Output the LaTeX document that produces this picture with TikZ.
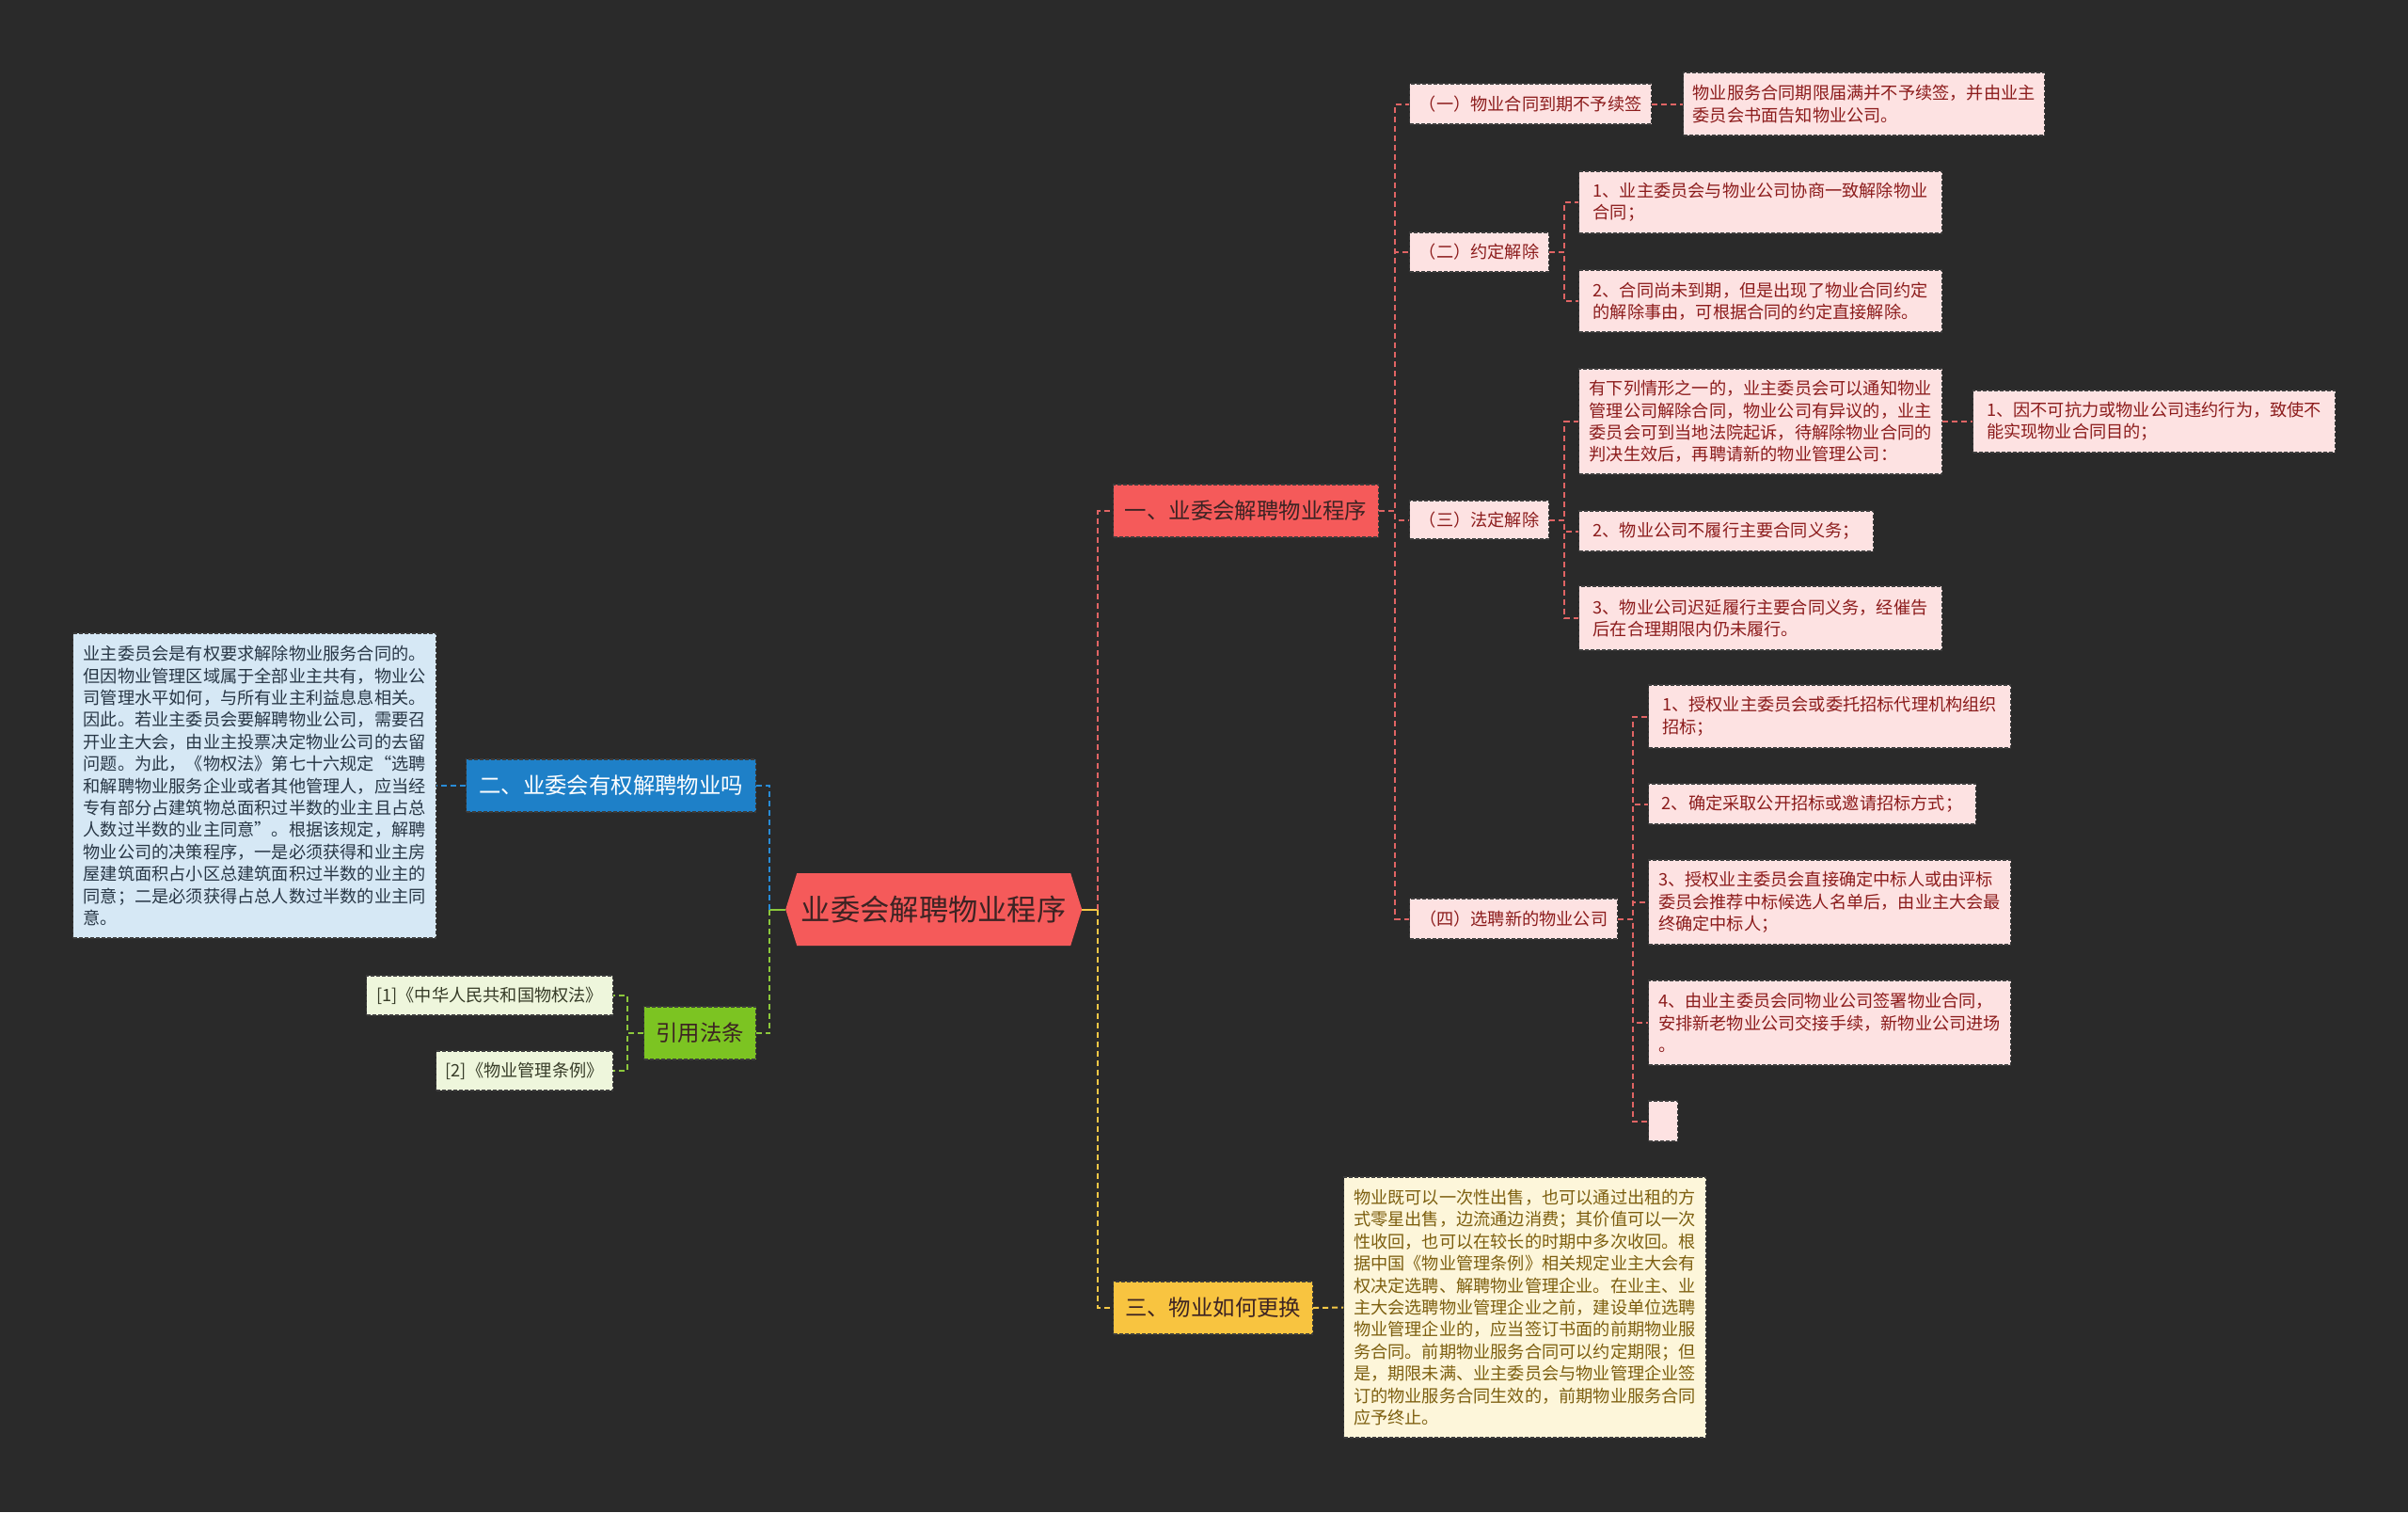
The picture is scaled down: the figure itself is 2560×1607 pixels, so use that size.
\documentclass[tikz,border=0pt]{standalone}
\usepackage{fontspec}
\setmainfont{Noto Sans CJK SC}
\definecolor{bg}{RGB}{42,42,42}
\definecolor{mainred}{RGB}{245,90,90}
\definecolor{mainblue}{RGB}{30,128,200}
\definecolor{maingreen}{RGB}{124,196,34}
\definecolor{mainyellow}{RGB}{248,196,64}
\definecolor{pinkfill}{RGB}{253,226,226}
\definecolor{pinktext}{RGB}{140,28,28}
\definecolor{bluefill}{RGB}{214,232,245}
\definecolor{bluetext}{RGB}{40,55,70}
\definecolor{greenfill}{RGB}{238,246,220}
\definecolor{greentext}{RGB}{55,60,40}
\definecolor{yellowfill}{RGB}{253,246,218}
\definecolor{yellowtext}{RGB}{125,95,15}
\definecolor{lred}{RGB}{224,100,100}
\definecolor{lblue}{RGB}{40,140,215}
\definecolor{lgreen}{RGB}{140,200,60}
\definecolor{lyellow}{RGB}{245,200,70}
\definecolor{boxedge}{RGB}{60,60,60}
\definecolor{darktext}{RGB}{60,35,35}
\tikzset{
  box/.style={draw=boxedge, line width=1.2pt, dash pattern=on 4pt off 2pt, inner sep=0pt},
  branch/.style={box, font=\fontsize{23.4}{28}\selectfont, minimum height=56pt, anchor=west, align=center},
  leaf/.style={box, font=\fontsize{18.2}{23.4}\selectfont, anchor=west, align=left},
  pinkleaf/.style={leaf, fill=pinkfill, text=pinktext},
  conn/.style={line width=2pt, dash pattern=on 6pt off 4pt},
}
\begin{document}
\begin{tikzpicture}[x=1pt,y=-1pt]
\fill[bg] (0,0) rectangle (2560,1607);
\useasboundingbox (0,0) rectangle (2560,1607);

% center
\node[font=\fontsize{31.3}{36}\selectfont, text=darktext, minimum width=315pt, minimum height=77pt, inner sep=0pt, anchor=west,
  path picture={\fill[mainred] (path picture bounding box.west) -- ([xshift=12pt]path picture bounding box.north west) -- ([xshift=-12pt]path picture bounding box.north east) -- (path picture bounding box.east) -- ([xshift=-12pt]path picture bounding box.south east) -- ([xshift=12pt]path picture bounding box.south west) -- cycle;}]
  (c) at (835,966.5) {业委会解聘物业程序};
\coordinate (cl) at (818,966.5);
\coordinate (cr) at (1167,966.5);

% main branches
\node[branch, fill=mainred, text=darktext, minimum width=282pt] (n1) at (1183,543) {一、业委会解聘物业程序};
\node[branch, fill=mainblue, text=white, minimum width=308pt] (n2) at (495,835) {二、业委会有权解聘物业吗};
\node[branch, fill=maingreen, text=darktext, minimum width=119pt] (n3) at (684,1098) {引用法条};
\node[branch, fill=mainyellow, text=darktext, minimum width=212pt] (n4) at (1183,1390) {三、物业如何更换};

% left leaves
\node[leaf, fill=bluefill, text=bluetext, minimum width=386pt, minimum height=324pt] (bleaf) at (77,835) {业主委员会是有权要求解除物业服务合同的。\\但因物业管理区域属于全部业主共有，物业公\\司管理水平如何，与所有业主利益息息相关。\\因此。若业主委员会要解聘物业公司，需要召\\开业主大会，由业主投票决定物业公司的去留\\问题。为此，《物权法》第七十六规定“选聘\\和解聘物业服务企业或者其他管理人，应当经\\专有部分占建筑物总面积过半数的业主且占总\\人数过半数的业主同意”。根据该规定，解聘\\物业公司的决策程序，一是必须获得和业主房\\屋建筑面积占小区总建筑面积过半数的业主的\\同意；二是必须获得占总人数过半数的业主同\\意。};
\node[leaf, fill=greenfill, text=greentext, minimum width=262pt, minimum height=42pt] (law1) at (389,1058) {[1]《中华人民共和国物权法》};
\node[leaf, fill=greenfill, text=greentext, minimum width=188pt, minimum height=42pt] (law2) at (463,1138) {[2]《物业管理条例》};

% yellow leaf
\node[leaf, fill=yellowfill, text=yellowtext, minimum width=385pt, minimum height=277pt] (yleaf) at (1428,1389.5) {物业既可以一次性出售，也可以通过出租的方\\式零星出售，边流通边消费；其价值可以一次\\性收回，也可以在较长的时期中多次收回。根\\据中国《物业管理条例》相关规定业主大会有\\权决定选聘、解聘物业管理企业。在业主、业\\主大会选聘物业管理企业之前，建设单位选聘\\物业管理企业的，应当签订书面的前期物业服\\务合同。前期物业服务合同可以约定期限；但\\是，期限未满、业主委员会与物业管理企业签\\订的物业服务合同生效的，前期物业服务合同\\应予终止。};

% subtree of n1
\node[pinkleaf, minimum width=257pt, minimum height=43pt] (s1) at (1498,110.5) {（一）物业合同到期不予续签};
\node[pinkleaf, minimum width=384pt, minimum height=67pt] (s1a) at (1789,110.5) {物业服务合同期限届满并不予续签，并由业主\\委员会书面告知物业公司。};
\node[pinkleaf, minimum width=148pt, minimum height=42pt] (s2) at (1498,268) {（二）约定解除};
\node[pinkleaf, minimum width=386pt, minimum height=66pt] (s2a) at (1678,215) {1、业主委员会与物业公司协商一致解除物业\\合同；};
\node[pinkleaf, minimum width=386pt, minimum height=66pt] (s2b) at (1678,320) {2、合同尚未到期，但是出现了物业合同约定\\的解除事由，可根据合同的约定直接解除。};
\node[pinkleaf, minimum width=148pt, minimum height=41pt] (s3) at (1498,552.5) {（三）法定解除};
\node[pinkleaf, minimum width=386pt, minimum height=112pt] (s3a) at (1678,448) {有下列情形之一的，业主委员会可以通知物业\\管理公司解除合同，物业公司有异议的，业主\\委员会可到当地法院起诉，待解除物业合同的\\判决生效后，再聘请新的物业管理公司：};
\node[pinkleaf, minimum width=385pt, minimum height=66pt] (s3a1) at (2097,448) {1、因不可抗力或物业公司违约行为，致使不\\能实现物业合同目的；};
\node[pinkleaf, minimum width=313pt, minimum height=43pt] (s3b) at (1678,564.5) {2、物业公司不履行主要合同义务；};
\node[pinkleaf, minimum width=386pt, minimum height=68pt] (s3c) at (1678,657) {3、物业公司迟延履行主要合同义务，经催告\\后在合理期限内仍未履行。};
\node[pinkleaf, minimum width=221pt, minimum height=43pt] (s4) at (1498,976.5) {（四）选聘新的物业公司};
\node[pinkleaf, minimum width=385pt, minimum height=67pt] (s4a) at (1752,761.5) {1、授权业主委员会或委托招标代理机构组织\\招标；};
\node[pinkleaf, minimum width=348pt, minimum height=43pt] (s4b) at (1752,854.5) {2、确定采取公开招标或邀请招标方式；};
\node[pinkleaf, minimum width=385pt, minimum height=90pt] (s4c) at (1752,959) {3、授权业主委员会直接确定中标人或由评标\\委员会推荐中标候选人名单后，由业主大会最\\终确定中标人；};
\node[pinkleaf, minimum width=385pt, minimum height=90pt] (s4d) at (1752,1087) {4、由业主委员会同物业公司签署物业合同，\\安排新老物业公司交接手续，新物业公司进场\\。};
\node[pinkleaf, minimum width=31pt, minimum height=43pt] (s4e) at (1752,1191.5) {};

% connectors from center
\draw[lgreen, line width=2pt] (c.west) -- (cl);
\draw[lyellow, line width=2pt] (c.east) -- (cr);
\draw[conn, lblue] (cl) |- (n2.east);
\draw[conn, lgreen] (cl) |- (n3.east);
\draw[conn, lred] (cr) |- (n1.west);
\draw[conn, lyellow] (cr) |- (n4.west);

% left subtrees
\draw[conn, lblue] (n2.west) -- (bleaf.east);
\draw[conn, lgreen] (n3.west) -- ++(-17,0) |- (law1.east);
\draw[conn, lgreen] (n3.west) -- ++(-17,0) |- (law2.east);

% yellow subtree
\draw[conn, lyellow] (n4.east) -- (yleaf.west);

% red subtree
\foreach \t in {s1,s2,s3,s4}{\draw[conn, lred] (n1.east) -- ++(17,0) |- (\t.west);}
\draw[conn, lred] (s1.east) -- (s1a.west);
\foreach \t in {s2a,s2b}{\draw[conn, lred] (s2.east) -- ++(16,0) |- (\t.west);}
\foreach \t in {s3a,s3b,s3c}{\draw[conn, lred] (s3.east) -- ++(16,0) |- (\t.west);}
\draw[conn, lred] (s3a.east) -- (s3a1.west);
\foreach \t in {s4a,s4b,s4c,s4d,s4e}{\draw[conn, lred] (s4.east) -- ++(16,0) |- (\t.west);}
\end{tikzpicture}
\end{document}
